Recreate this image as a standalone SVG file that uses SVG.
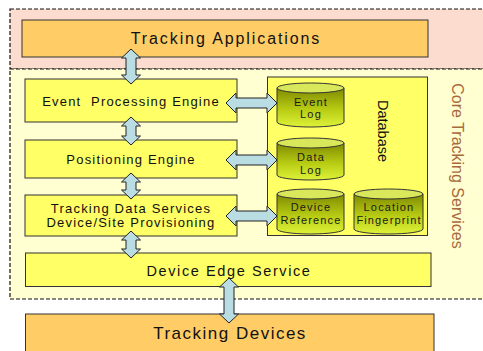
<svg xmlns="http://www.w3.org/2000/svg" width="483" height="351" viewBox="0 0 483 351">
<defs>
<linearGradient id="cylG" x1="0" y1="0" x2="0" y2="1">
<stop offset="0" stop-color="#7f8a00"/>
<stop offset="0.55" stop-color="#b8cc14"/>
<stop offset="1" stop-color="#dff23a"/>
</linearGradient>
<style>
text{font-family:"Liberation Sans",Arial,sans-serif;fill:#111;text-anchor:middle}
.zone{stroke:#111;stroke-width:1.2;stroke-dasharray:4,2}
.obox{fill:#ffcc66;stroke:#333;stroke-width:1}
.ybox{fill:#ffff66;stroke:#333;stroke-width:1}
.cylb{fill:url(#cylG);stroke:#333;stroke-width:1}
.cylt{fill:#d9e85a;stroke:#333;stroke-width:1}
.arr{fill:#b9dde3;stroke:#222;stroke-width:1;stroke-linejoin:miter}
.big{font-size:16px;letter-spacing:1.9px}
.mid{font-size:13px;letter-spacing:1.2px}
.cyl{font-size:11px;letter-spacing:1.15px;fill:#1a1a1a}
</style>
</defs>
<rect width="483" height="351" fill="#ffffff"/>
<g id="zones">
<rect class="zone" x="10" y="9" width="490" height="60" fill="#fddcd0"/>
<rect class="zone" x="10" y="69" width="490" height="230" fill="#ffffd2"/>
<text transform="translate(452,166) rotate(90)" style="font-size:16px;fill:#a86a3c">Core Tracking Services</text>
</g>
<g id="tracking-applications">
<rect class="obox" x="22" y="20" width="406" height="37"/>
<text class="big" x="226" y="44">Tracking Applications</text>
</g>
<g id="event-processing-engine">
<rect class="ybox" x="25" y="79" width="212" height="43"/>
<text class="mid" x="131" y="106" xml:space="preserve">Event  Processing Engine</text>
</g>
<g id="positioning-engine">
<rect class="ybox" x="25" y="140" width="212" height="38"/>
<text class="mid" x="131" y="164">Positioning Engine</text>
</g>
<g id="tracking-data-services">
<rect class="ybox" x="25" y="195" width="212" height="41"/>
<text class="mid" x="131" y="213">Tracking Data Services</text>
<text class="mid" x="131" y="227">Device/Site Provisioning</text>
</g>
<g id="device-edge-service">
<rect class="ybox" x="25.5" y="253" width="405.5" height="33.5"/>
<text x="229" y="276" style="font-size:14.5px;letter-spacing:1.6px">Device Edge Service</text>
</g>
<g id="tracking-devices">
<rect class="obox" x="25.5" y="314" width="408.5" height="45"/>
<text x="230" y="339" style="font-size:17px;letter-spacing:1.5px">Tracking Devices</text>
</g>
<g id="database">
<rect class="ybox" x="267.5" y="77" width="160" height="158.5"/>
<text transform="translate(378,131) rotate(90)" style="font-size:14.5px">Database</text>
</g>
<g id="event-log">
<path class="cylb" d="M277,88 L277,122 A33.5,5 0 0 0 344,122 L344,88 Z"/>
<ellipse class="cylt" cx="310.5" cy="88" rx="33.5" ry="5"/>
<text class="cyl" x="311" y="105.5">Event</text>
<text class="cyl" x="311" y="118.2">Log</text>
</g>
<g id="data-log">
<path class="cylb" d="M277,143 L277,175 A33.5,5 0 0 0 344,175 L344,143 Z"/>
<ellipse class="cylt" cx="310.5" cy="143" rx="33.5" ry="5"/>
<text class="cyl" x="311" y="161">Data</text>
<text class="cyl" x="311" y="173.7">Log</text>
</g>
<g id="device-reference">
<path class="cylb" d="M277,194 L277,229 A33.5,5 0 0 0 344,229 L344,194 Z"/>
<ellipse class="cylt" cx="310.5" cy="194" rx="33.5" ry="5"/>
<text class="cyl" x="311" y="211">Device</text>
<text class="cyl" x="311" y="223.7">Reference</text>
</g>
<g id="location-fingerprint">
<path class="cylb" d="M354,194 L354,229 A34.5,5 0 0 0 423,229 L423,194 Z"/>
<ellipse class="cylt" cx="388.5" cy="194" rx="34.5" ry="5"/>
<text class="cyl" x="389" y="211">Location</text>
<text class="cyl" x="389" y="223.7">Fingerprint</text>
</g>
<g id="connectors">
<polygon class="arr" points="131,49 140.5,58 136,58 136,75 140.5,75 131,84 121.5,75 126,75 126,58 121.5,58"/>
<polygon class="arr" points="131,117 140.5,126 136,126 136,136 140.5,136 131,145 121.5,136 126,136 126,126 121.5,126"/>
<polygon class="arr" points="131,173 140.5,182 136,182 136,190 140.5,190 131,199 121.5,190 126,190 126,182 121.5,182"/>
<polygon class="arr" points="131,231 140.5,240 136,240 136,249 140.5,249 131,258 121.5,249 126,249 126,240 121.5,240"/>
<polygon class="arr" points="229,278 238.5,287 234,287 234,314 238.5,314 229,323 219.5,314 224,314 224,287 219.5,287"/>
<polygon class="arr" points="226,103 236,93 236,98 267,98 267,93 277,103 267,113 267,108 236,108 236,113"/>
<polygon class="arr" points="226,160 236,150 236,155 267,155 267,150 277,160 267,170 267,165 236,165 236,170"/>
<polygon class="arr" points="226,216 236,206 236,211 267,211 267,206 277,216 267,226 267,221 236,221 236,226"/>
</g>
</svg>
